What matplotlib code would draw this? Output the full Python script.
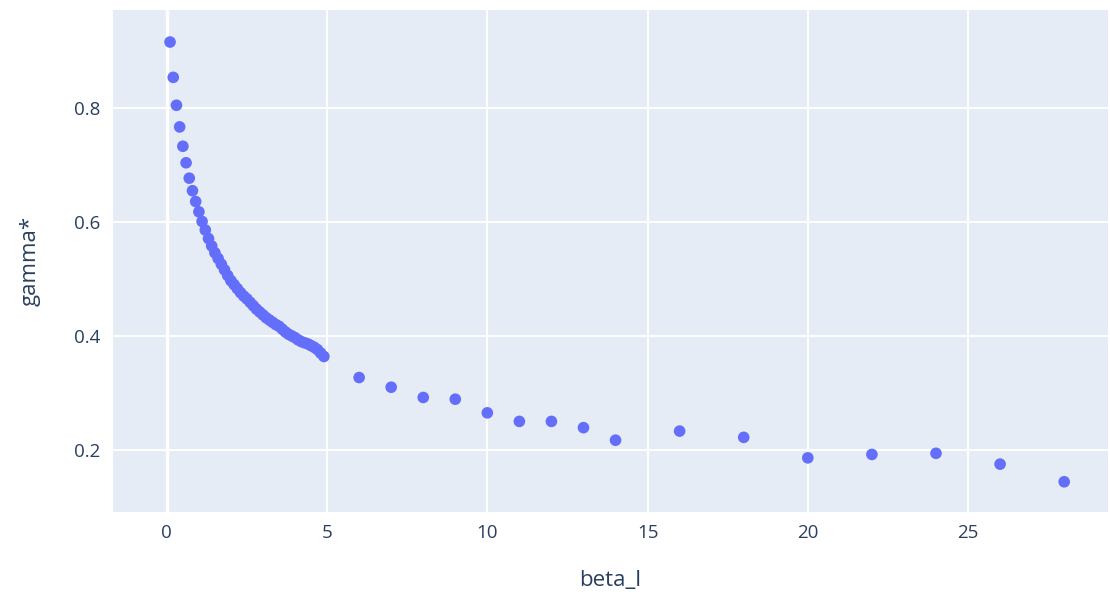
import matplotlib
matplotlib.use("Agg")
import matplotlib.pyplot as plt

# beta_l values and corresponding gamma* estimates
beta_dense = [round(0.1 * i, 1) for i in range(1, 50)]
gamma_dense = [
    0.916, 0.854, 0.805, 0.767, 0.733, 0.704, 0.677, 0.655, 0.636, 0.618,
    0.601, 0.586, 0.571, 0.558, 0.546, 0.536, 0.526, 0.516, 0.506, 0.497,
    0.490, 0.483, 0.476, 0.470, 0.465, 0.459, 0.453, 0.447, 0.442, 0.437,
    0.432, 0.428, 0.424, 0.420, 0.417, 0.412, 0.407, 0.403, 0.400, 0.397,
    0.393, 0.390, 0.388, 0.386, 0.383, 0.380, 0.376, 0.370, 0.364,
]
beta_sparse = [6, 7, 8, 9, 10, 11, 12, 13, 14, 16, 18, 20, 22, 24, 26, 28]
gamma_sparse = [
    0.327, 0.310, 0.292, 0.289, 0.265, 0.250, 0.250, 0.239, 0.217,
    0.233, 0.222, 0.186, 0.192, 0.194, 0.175, 0.144,
]

beta_l = beta_dense + beta_sparse
gamma_star = gamma_dense + gamma_sparse

x_ticks = [0, 5, 10, 15, 20, 25]
y_ticks = [0.2, 0.4, 0.6, 0.8]

plt.rcParams["font.family"] = ["Open Sans", "DejaVu Sans"]
text_color = "#2a3f5f"

fig = plt.figure(figsize=(11.1, 5.96), dpi=100)
ax = fig.add_axes([0.1018, 0.141, 0.8962, 0.842])
ax.set_facecolor("#e5ecf6")

ax.set_xlim(-1.68, 29.36)
ax.set_ylim(0.091, 0.972)
ax.set_xticks(x_ticks)
ax.set_yticks(y_ticks)
ax.set_yticklabels([f"{v:.1f}" for v in y_ticks])

ax.grid(True, color="white", linewidth=1.4)
ax.set_axisbelow(True)
ax.axvline(0, color="white", linewidth=2.4, zorder=1)

for s in ax.spines.values():
    s.set_visible(False)
ax.tick_params(axis="both", length=0, pad=9, labelsize=13.5, labelcolor=text_color)

ax.scatter(beta_l, gamma_star, s=70, color="#636efa", edgecolors="none", zorder=3)

ax.set_xlabel("beta_l", fontsize=16, color=text_color, labelpad=20)
ax.set_ylabel("gamma*", fontsize=16, color=text_color, labelpad=24)

fig.savefig("out.png", dpi=100)
